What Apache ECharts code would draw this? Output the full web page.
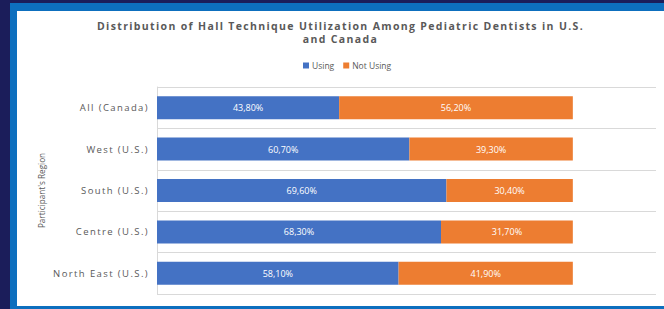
<!DOCTYPE html>
<html>
<head>
<meta charset="utf-8">
<script src="https://cdn.jsdelivr.net/npm/echarts@6/dist/echarts.min.js"></script>
<style>
  html, body { margin: 0; padding: 0; width: 664px; height: 309px; overflow: hidden; background: #1b1d5a; }
  #frame { position: absolute; left: 10px; top: 3px; width: 654px; height: 306px; background: #0d6fbe; }
  #chart { position: absolute; left: 17px; top: 11px; width: 647px; height: 295px; background: #ffffff; }
</style>
</head>
<body>
<div id="frame"></div>
<div id="chart"></div>
<script>
const titleText = 'Distribution of Hall Technique Utilization Among Pediatric Dentists in U.S.\nand Canada';
const categories = ['All (Canada)', 'West (U.S.)', 'South (U.S.)', 'Centre (U.S.)', 'North East (U.S.)'];
const usingValues = [43.8, 60.7, 69.6, 68.3, 58.1];
const notUsingValues = [56.2, 39.3, 30.4, 31.7, 41.9];
const seriesNames = ['Using', 'Not Using'];
const axisName = "Participant's Region";

const chart = echarts.init(document.getElementById('chart'), null, { renderer: 'svg' });
const fmt = p => p.value.toFixed(2).replace('.', ',') + '%';
const labelStyle = { show: true, position: 'inside', color: '#ffffff', fontSize: 9, fontFamily: 'Open Sans', formatter: fmt };

chart.setOption({
  animation: false,
  title: {
    text: titleText,
    left: 'center',
    top: 3,
    padding: [5, 0, 5, 7],
    textStyle: { fontSize: 10.5, fontWeight: 'bold', color: '#595959', fontFamily: 'Open Sans', lineHeight: 13.5 }
  },
  legend: {
    data: seriesNames,
    left: 286,
    top: 50,
    padding: 0,
    icon: 'rect',
    itemWidth: 6,
    itemHeight: 6,
    itemGap: 9,
    textStyle: { fontSize: 8.5, color: '#595959', fontFamily: 'Open Sans', padding: [0, 0, 0, -2] }
  },
  grid: { left: 140, top: 76, height: 207, right: 8, containLabel: false },
  xAxis: {
    type: 'value', min: 0, max: 120, show: false,
    splitLine: { show: false }
  },
  yAxis: {
    type: 'category',
    data: categories,
    inverse: true,
    name: axisName,
    nameLocation: 'middle',
    nameGap: 112,
    nameTextStyle: { fontSize: 8.2, color: '#595959', fontFamily: 'Open Sans' },
    axisLine: { show: true, lineStyle: { color: '#d9d9d9' } },
    axisTick: { show: false },
    axisLabel: { fontSize: 9.5, color: '#595959', fontFamily: 'Open Sans', margin: 8 },
    splitLine: { show: true, lineStyle: { color: '#d9d9d9', width: 1 } }
  },
  series: [
    { name: seriesNames[0], type: 'bar', stack: 'total', data: usingValues, barWidth: 23, itemStyle: { color: '#4472c4' }, label: labelStyle },
    { name: seriesNames[1], type: 'bar', stack: 'total', data: notUsingValues, barWidth: 23, itemStyle: { color: '#ed7d31' }, label: labelStyle }
  ]
});

function applySpacing() {
  const texts = document.querySelectorAll('#chart svg text, #chart svg tspan');
  texts.forEach(t => {
    const s = (t.textContent || '').trim();
    if (categories.indexOf(s) >= 0) t.setAttribute('letter-spacing', '1.4');
    else if (s.indexOf('Distribution') === 0 || s === 'and Canada') t.setAttribute('letter-spacing', '1.35');
  });
}
chart.on('finished', applySpacing);
applySpacing();
setTimeout(applySpacing, 50);
</script>
</body>
</html>
